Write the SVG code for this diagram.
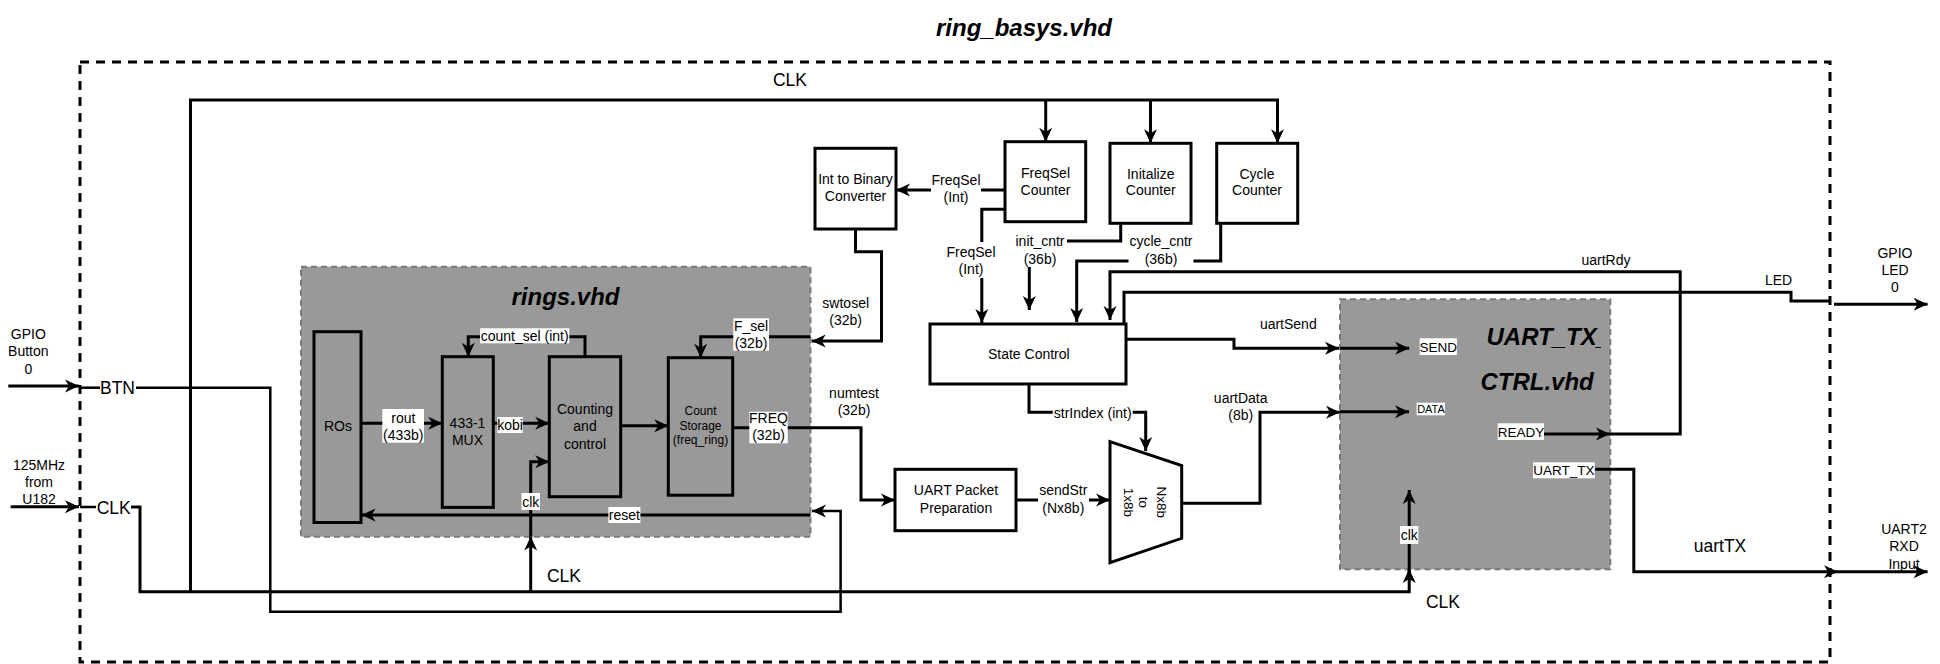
<svg xmlns="http://www.w3.org/2000/svg" width="1940" height="664" viewBox="0 0 1940 664">
<defs>
<style>
text{font-family:"Liberation Sans",Arial,sans-serif;font-size:14px;fill:#000;text-anchor:middle}
.big{font-size:17.5px}
.ttl{font-size:24px;font-weight:bold;font-style:italic}
.sm{font-size:12px}
.xs{font-size:11px}
.md{font-size:13.5px}
.box{fill:#fff;stroke:#000;stroke-width:3}
.ibox{fill:#999;stroke:#000;stroke-width:3}
.grp{fill:#999;stroke:#7a7a7a;stroke-width:2;stroke-dasharray:6 4}
.c{fill:none;stroke:#000;stroke-width:3}
.t2{stroke-width:2.5}
.a{marker-end:url(#ah)}
.bg{fill:#fff}
</style>
<marker id="ah" viewBox="-16 -8 17 16" refX="0" refY="0" markerWidth="17" markerHeight="16" markerUnits="userSpaceOnUse" orient="auto"><path d="M0,0 L-14,-6.5 L-10,0 L-14,6.5 Z" fill="#000"/></marker>
<clipPath id="uclip"><rect x="1340" y="299" width="261" height="100"/></clipPath>
</defs>
<rect width="1940" height="664" fill="#fff"/>

<text class="ttl" x="1024" y="36">ring_basys.vhd</text>
<rect id="outer" x="80" y="62" width="1750" height="600" fill="none" stroke="#000" stroke-width="3" stroke-dasharray="9 7"/>

<g id="rings">
<rect class="grp" x="301" y="266.7" width="509.5" height="270"/>
<text class="ttl" x="565.5" y="305">rings.vhd</text>
</g>
<g id="uart_tx_ctrl">
<rect class="grp" x="1340" y="299.3" width="270.3" height="270"/>
<text class="ttl" x="1486.5" y="345" style="text-anchor:start" clip-path="url(#uclip)">UART_TX_</text>
<text class="ttl" x="1480.4" y="389.5" style="text-anchor:start">CTRL.vhd</text>
</g>

<g id="connectors">
<path class="c a" d="M10.7,506.7 L79,506.7"/>
<path class="c t2" d="M80,507 L96,507"/>
<path class="c" d="M131,507 L140,507 L140,591.7 L1409.2,591.7 L1409.2,569"/>
<path class="c a" d="M1409.2,575 L1409.2,569"/>
<path class="c" d="M190.5,591.7 L190.5,100 L1279,100"/>
<path class="c a" d="M1045.7,100 L1045.7,141.7"/>
<path class="c a" d="M1150.5,100 L1150.5,143.3"/>
<path class="c a" d="M1277.5,100 L1277.5,143.3"/>
<path class="c a" d="M530.7,591.7 L530.7,536.5"/>
<path class="c a" d="M530.7,536.5 L530.7,461.7 L549.3,461.7"/>
<path class="c a" d="M1409.2,569 L1409.2,490"/>
<path class="c a" d="M8.3,386 L79,386"/>
<path class="c t2" d="M80,387.7 L100,387.7"/>
<path class="c t2 a" d="M136,387.7 L270.3,387.7 L270.3,611.7 L840.6,611.7 L840.6,511 L812,511"/>
<path class="c a" d="M810.5,515 L361.5,515"/>
<path class="c a" d="M361,423.3 L442.3,423.3"/>
<path class="c a" d="M493.3,423.3 L549.3,423.3"/>
<path class="c a" d="M620.7,425.7 L668.3,425.7"/>
<path class="c a" d="M585,356.7 L585,336.7 L468.3,336.7 L468.3,356.7"/>
<path class="c a" d="M810.5,336.7 L700.7,336.7 L700.7,357.7"/>
<path class="c a" d="M855.5,229 L855.5,251.7 L881.5,251.7 L881.5,341 L811.7,341"/>
<path class="c a" d="M732.7,427.7 L861,427.7 L861,500 L895,500"/>
<path class="c a" d="M1016,500 L1110,500"/>
<path class="c a" d="M1181.7,503.3 L1260,503.3 L1260,412.3 L1340,412.3"/>
<path class="c a" d="M1340,411.7 L1409,411.7"/>
<path class="c a" d="M1029,384 L1029,412.3 L1145.7,412.3 L1145.7,451"/>
<path class="c a" d="M1126,339.3 L1234,339.3 L1234,348.3 L1339,348.3"/>
<path class="c a" d="M1340,348.3 L1409.2,348.3"/>
<path class="c a" d="M1544,434 L1610,434"/>
<path class="c a" d="M1610,434 L1680.2,434 L1680.2,271.7 L1110,271.7 L1110,320"/>
<path class="c" d="M1124,324 L1124,292.3 L1791,292.3 L1791,301 L1830,301"/>
<path class="c a" d="M1834,304.3 L1927.6,304.3"/>
<path class="c a" d="M1594.8,469.3 L1633.8,469.3 L1633.8,571.7 L1838,571.7"/>
<path class="c a" d="M1838,571.7 L1927.6,571.7"/>
<path class="c a" d="M1005,190 L896,190"/>
<path class="c a" d="M1005,209.3 L981.8,209.3 L981.8,323"/>
<path class="c a" d="M1120.7,223.3 L1120.7,241 L1029.3,241 L1029.3,310"/>
<path class="c a" d="M1220.7,223.3 L1220.7,261 L1076.7,261 L1076.7,322"/>
</g>

<g id="labels">
<text class="big" x="790" y="86">CLK</text>
<rect class="bg" x="931" y="170" width="50" height="36"/>
<text x="956" y="184.5">FreqSel</text><text x="956" y="201.7">(Int)</text>
<rect class="bg" x="946" y="242" width="50" height="36"/>
<text x="971" y="256.9">FreqSel</text><text x="971" y="273.5">(Int)</text>
<rect class="bg" x="1011" y="232" width="56" height="35"/>
<text x="1040" y="246.2">init_cntr</text><text x="1040" y="263.5">(36b)</text>
<rect class="bg" x="1128.5" y="232" width="65" height="35"/>
<text x="1161" y="246.2">cycle_cntr</text><text x="1161" y="263.5">(36b)</text>
<text x="1606" y="264.5">uartRdy</text>
<text x="1778.5" y="285">LED</text>
<text x="1895" y="258">GPIO</text><text x="1895" y="275">LED</text><text x="1895" y="292">0</text>
<text x="845.7" y="307.9">swtosel</text><text x="845.7" y="325.2">(32b)</text>
<text x="1288.3" y="328.5">uartSend</text>
<rect class="bg" x="480" y="328.3" width="89.3" height="15"/>
<text x="524.7" y="341">count_sel (int)</text>
<rect class="bg" x="733.3" y="318.3" width="35.7" height="32.4"/>
<text x="751" y="331">F_sel</text><text x="751" y="348.3">(32b)</text>
<rect class="bg" x="1419.7" y="338.3" width="37.2" height="16.7"/>
<text class="md" x="1438.3" y="351.5">SEND</text>
<text x="28.3" y="339">GPIO</text><text x="28.3" y="356">Button</text><text x="28.3" y="373.5">0</text>
<text class="big" x="100" y="393.5" style="text-anchor:start">BTN</text>
<text x="854" y="397.5">numtest</text><text x="854" y="415.2">(32b)</text>
<text x="1240.7" y="402.5">uartData</text><text x="1240.7" y="420.2">(8b)</text>
<rect class="bg" x="1416.6" y="402.7" width="28.4" height="12.6"/>
<text class="xs" x="1431" y="412.9">DATA</text>
<rect class="bg" x="1052.7" y="404" width="80" height="17"/>
<text x="1092.7" y="417.5">strIndex (int)</text>
<rect class="bg" x="382.3" y="409" width="41.7" height="33.7"/>
<text x="403.3" y="422.5">rout</text><text x="403.3" y="440.2">(433b)</text>
<rect class="bg" x="497.3" y="417" width="25.4" height="16"/>
<text x="510" y="430.2">kobi</text>
<rect class="bg" x="749.3" y="411.7" width="38.4" height="31.6"/>
<text x="768.5" y="422.9">FREQ</text><text x="768.5" y="440.2">(32b)</text>
<rect class="bg" x="1497.7" y="423.3" width="46.3" height="16.7"/>
<text class="md" x="1521" y="436.5">READY</text>
<text x="39" y="469.5">125MHz</text><text x="39" y="486.9">from</text><text x="39" y="504.2">U182</text>
<rect class="bg" x="1533" y="462.3" width="61.8" height="16"/>
<text class="md" x="1564" y="475.2">UART_TX</text>
<rect class="bg" x="1038" y="481" width="51" height="35"/>
<text x="1063.3" y="495.2">sendStr</text><text x="1063.3" y="512.5">(Nx8b)</text>
<rect class="bg" x="521.5" y="493" width="18.5" height="17"/>
<text x="530.7" y="506.9">clk</text>
<text class="big" x="96.7" y="513.6" style="text-anchor:start">CLK</text>
<rect class="bg" x="608.4" y="507" width="32" height="16"/>
<text x="624.4" y="520.2">reset</text>
<rect class="bg" x="1400" y="526" width="18.4" height="18"/>
<text x="1409.2" y="540.2">clk</text>
<text class="big" x="1720" y="552">uartTX</text>
<text x="1904" y="533.5">UART2</text><text x="1904" y="550.9">RXD</text><text x="1904" y="568.5">Input</text>
<text class="big" x="564" y="582">CLK</text>
<text class="big" x="1443" y="608">CLK</text>
</g>

<g id="int_to_binary">
<rect class="box" x="815" y="148.3" width="81" height="80.7"/>
<text x="855.5" y="184.3">Int to Binary</text><text x="855.5" y="201">Converter</text>
</g>
<g id="freqsel_counter">
<rect class="box" x="1005" y="141.7" width="80.7" height="80"/>
<text x="1045.5" y="177.5">FreqSel</text><text x="1045.5" y="194.5">Counter</text>
</g>
<g id="init_counter">
<rect class="box" x="1110" y="143.3" width="81" height="80"/>
<text x="1150.7" y="178.5">Initalize</text><text x="1150.7" y="195.2">Counter</text>
</g>
<g id="cycle_counter">
<rect class="box" x="1216.7" y="143.3" width="81" height="80"/>
<text x="1257" y="178.5">Cycle</text><text x="1257" y="195.2">Counter</text>
</g>
<g id="state_control">
<rect class="box" x="930" y="324" width="196" height="60"/>
<text x="1028.8" y="358.5">State Control</text>
</g>
<g id="uart_packet">
<rect class="box" x="895" y="469.3" width="121" height="61.4"/>
<text x="956" y="495.2">UART Packet</text><text x="956" y="512.5">Preparation</text>
</g>
<g id="ros">
<rect class="ibox" x="314" y="331.7" width="47" height="190.8"/>
<text x="338" y="431.2">ROs</text>
</g>
<g id="mux433">
<rect class="ibox" x="442.3" y="356.7" width="51" height="150.7"/>
<text x="467.5" y="427.5">433-1</text><text x="467.5" y="444.5">MUX</text>
</g>
<g id="counting">
<rect class="ibox" x="549.3" y="356.7" width="71.4" height="140"/>
<text x="585" y="414.2">Counting</text><text x="585" y="431.2">and</text><text x="585" y="448.5">control</text>
</g>
<g id="count_storage">
<rect class="ibox" x="668.3" y="357.7" width="64.4" height="137.5"/>
<text class="sm" x="700.5" y="415">Count</text><text class="sm" x="700.5" y="430">Storage</text><text class="sm" x="700.5" y="444.3">(freq_ring)</text>
</g>
<g id="mux_nx8b">
<polygon points="1110,441.7 1181.7,465.7 1181.7,538.3 1110,562.7" fill="#fff" stroke="#000" stroke-width="3"/>
<text class="md" transform="translate(1145,502.3) rotate(90)" x="0" y="-12">Nx8b</text>
<text class="md" transform="translate(1145,502.3) rotate(90)" x="0" y="6.4">to</text>
<text class="md" transform="translate(1145,502.3) rotate(90)" x="0" y="21.5">1x8b</text>
</g>
</svg>
